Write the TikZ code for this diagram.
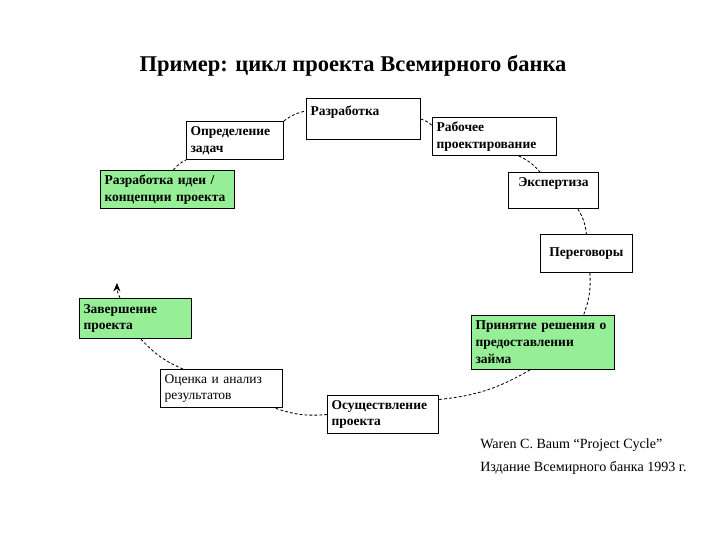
\documentclass[tikz,border=0pt]{standalone}
\usepackage{fontspec}
\setmainfont{Liberation Serif}
\usetikzlibrary{arrows.meta}
\definecolor{boxgreen}{RGB}{150,238,150}
\newdimen\px
\px=0.7087pt
\tikzset{
  box/.style={draw, line width=0.8pt, anchor=north west, align=left,
    inner xsep=4\px, inner ysep=2pt, font=\fontsize{9.6}{12}\selectfont\bfseries},
  greenbox/.style={box, fill=boxgreen},
  link/.style={line width=0.6pt, dash pattern=on 2pt off 1.5pt, bend left=12}
}
\begin{document}
\begin{tikzpicture}[x=0.025cm, y=0.025cm]
        \useasboundingbox (0,0) rectangle (720,540);

        \node[font=\fontsize{16}{19}\selectfont\bfseries] (title) at (353,474)
          {Пример: цикл проекта Всемирного банка};

        % boxes of the cycle
        \node[box, minimum width=114\px, minimum height=41\px, text width=106\px] (dev) at (306,442) {Разработка\\ \mbox{}};
        \node[box, minimum width=97\px, minimum height=38\px, text width=89\px] (task) at (186,419) {Определение\\задач};
        \node[greenbox, minimum width=134\px, minimum height=38\px, text width=126\px] (idea) at (100,370) {Разработка идеи /\\концепции проекта};
        \node[box, minimum width=124\px, minimum height=38\px, text width=116\px] (work) at (432,423) {Рабочее\\проектирование};
        \node[box, minimum width=90\px, minimum height=36\px, text width=82\px, align=center] (exp) at (508,368) {Экспертиза\\ \mbox{}};
        \node[box, minimum width=92\px, minimum height=38\px, text width=84\px, align=center] (neg) at (540,306) {Переговоры};
        \node[greenbox, minimum width=143\px, minimum height=54\px, text width=135\px] (dec) at (471,225) {Принятие решения о\\предоставлении\\займа};
        \node[greenbox, minimum width=112\px, minimum height=40\px, text width=104\px] (compl) at (79,242) {Завершение\\проекта};
        \node[box, minimum width=122\px, minimum height=38\px, text width=114\px, font=\fontsize{9.6}{12}\selectfont] (eval) at (160,171) {Оценка и анализ\\результатов};
        \node[box, minimum width=111\px, minimum height=38\px, text width=103\px] (impl) at (327,145) {Осуществление\\проекта};

        \node[anchor=north west, align=left, inner sep=0pt, font=\fontsize{10}{17}\selectfont] (cite) at (480,102)
          {Waren C. Baum “Project Cycle”\\Издание Всемирного банка 1993 г.};

        % dashed links
        \coordinate (back) at (117,257);
        \draw[link] ([xshift=6\px]idea.north) to (task.south west);
        \draw[link] (task.north east) to (dev.172);
        \draw[link] (dev.east) to (work.170);
        \draw[link] ([xshift=-38\px]work.south east) to ([xshift=32\px]exp.north west);
        \draw[link] (exp.-37) to (neg.north);
        \draw[link] (neg.-80) to (dec.34);
        \draw[link] (dec.-115) to (impl.15);
        \draw[link] (impl.west) to ([xshift=-8\px]eval.south east);
        \draw[link] ([xshift=23\px]eval.north west) to (compl.-75);
        \draw[link, -{Stealth[length=6pt, width=5pt]}] (compl.127) to (back);
\end{tikzpicture}
\end{document}
